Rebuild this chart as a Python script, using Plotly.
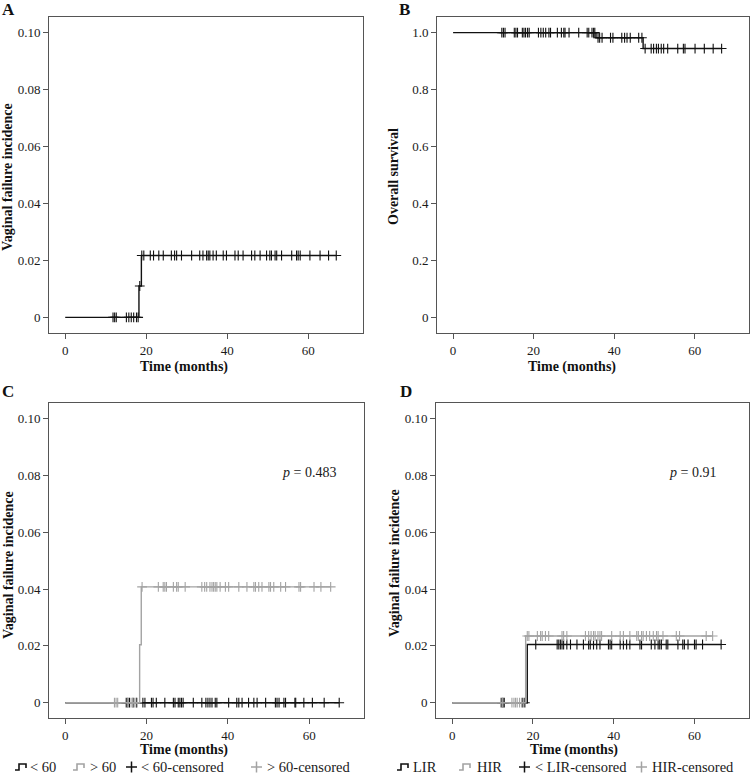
import numpy as np
import plotly.graph_objects as go

# ---------------- data ----------------
# Panel A: vaginal failure cumulative incidence (all patients)
a_step_t = [0, 18.2, 18.8, 66.9]
a_step_v = [0, 0.011, 0.0217, 0.0217]
a_cens_t = [11.8, 12.2, 12.6, 15.1, 15.7, 16.3, 16.9, 17.6, 18.0, 18.4,
            18.9, 19.4, 21.0, 21.8, 23.1, 24.2, 26.2, 27.0, 27.5, 28.7, 31.2,
            33.2, 34.0, 34.9, 35.3, 35.7, 36.5, 37.3, 39.0, 39.8, 41.9, 42.7,
            43.9, 46.0, 46.8, 48.1, 49.7, 50.5, 50.9, 51.8, 52.2, 53.4, 55.9,
            57.1, 57.5, 58.0, 60.4, 62.9, 65.0, 66.9]

# Panel B: overall survival
b_step_t = [0, 35.5, 47.2, 66.7]
b_step_v = [1.0, 0.982, 0.944, 0.944]
b_cens_t = [12.1, 12.5, 12.9, 15.2, 15.6, 16.0, 17.2, 17.6, 18.0, 18.5, 18.9,
            21.2, 21.8, 22.4, 23.0, 23.8, 24.2, 25.9, 26.9, 27.5, 27.8, 28.8,
            31.2, 33.3, 33.7, 34.5, 34.9, 35.2, 36.0, 36.4, 37.0, 39.1, 39.7,
            41.9, 42.6, 43.2, 44.0, 46.1, 46.9, 47.7, 49.2, 49.8, 50.5, 51.0,
            51.7, 52.3, 53.3, 55.8, 57.2, 57.6, 60.1, 62.4, 64.6, 66.7]

# Panel C: by age (< 60 vs > 60)
c_lt60_t = [0, 67.4]
c_lt60_v = [0, 0]
c_lt60_cens = [15.0, 15.4, 15.8, 16.7, 17.5, 19.1, 19.6, 21.2, 21.6, 22.4,
               24.5, 26.6, 27.0, 27.8, 28.2, 28.6, 29.0, 31.5, 33.6, 34.6,
               35.1, 35.6, 36.1, 36.9, 37.3, 40.2, 42.2, 42.7, 43.5, 45.1,
               46.4, 47.2, 49.3, 51.7, 52.1, 52.6, 53.8, 54.2, 56.5, 56.7,
               58.7, 60.8, 63.7, 67.4]
c_gt60_t = [0, 18.3, 18.7, 65.3]
c_gt60_v = [0, 0.0204, 0.0408, 0.0408]
c_gt60_cens = [12.1, 12.5, 12.9, 15.4, 16.2, 16.6, 17.1, 17.7,
               18.9, 22.9, 24.1, 24.5, 24.9, 26.6, 27.4, 27.8, 29.5, 33.6,
               34.3, 34.8, 35.6, 36.1, 36.5, 36.9, 37.3, 38.1, 39.4, 40.2,
               42.7, 44.7, 46.4, 46.8, 47.6, 48.4, 50.1, 50.5, 51.3, 53.0,
               54.2, 57.5, 57.9, 61.2, 62.9, 65.3]
c_pvalue = "<i>p</i> = 0.483"
c_legend_labels = ["< 60", "> 60", "< 60-censored", "> 60-censored"]

# Panel D: by risk group (LIR vs HIR)
d_lir_t = [0, 18.6, 66.6]
d_lir_v = [0, 0.0205, 0.0205]
d_lir_cens = [12.3, 12.6, 12.9, 17.5, 18.0,
              20.7, 26.0, 26.4, 26.8, 27.2, 27.6, 28.4, 29.3, 30.9, 32.5,
              33.8, 34.2, 35.0, 35.8, 36.6, 38.7, 39.1, 39.5, 41.6, 42.4,
              43.2, 44.0, 46.5, 46.9, 49.3, 50.2, 51.0, 51.4, 51.8, 53.0,
              53.4, 55.9, 57.1, 57.5, 58.4, 60.0, 60.4, 62.0, 66.6]
d_hir_t = [0, 18.2, 64.5]
d_hir_v = [0, 0.0235, 0.0235]
d_hir_cens = [12.0, 12.5, 14.8, 15.3, 15.7, 16.1, 16.7, 17.2,
              18.6, 19.0, 21.1, 21.9, 22.3, 23.1, 23.9, 27.2, 27.6, 28.4,
              33.0, 33.8, 34.4, 35.0, 35.4, 36.1, 36.6, 37.0, 39.5, 41.6,
              42.4, 44.0, 45.7, 46.1, 46.9, 47.3, 48.1, 48.9, 49.8, 50.6,
              51.0, 52.2, 55.5, 56.3, 62.9, 64.5]
d_pvalue = "<i>p</i> = 0.91"
d_legend_labels = ["LIR", "HIR", "< LIR-censored", "HIR-censored"]

x_tickvals = [0, 20, 40, 60]
inc_tickvals = [0, 0.02, 0.04, 0.06, 0.08, 0.10]
inc_ticktext = ["0", "0.02", "0.04", "0.06", "0.08", "0.10"]
surv_tickvals = [0, 0.2, 0.4, 0.6, 0.8, 1.0]
surv_ticktext = ["0", "0.2", "0.4", "0.6", "0.8", "1.0"]

# ---------------- figure ----------------
W, H = 752, 776
FONT = "Liberation Serif"
BLACK = "#111111"
GRAY = "#a3a3a3"
TXT = "#1a1a1a"


def step_value(ts, vs, t):
    idx = np.searchsorted(np.array(ts), t, side="right") - 1
    return np.array(vs)[np.clip(idx, 0, len(vs) - 1)]


fig = go.Figure()


def add_group(ts, vs, cens, color, xa, ya, name):
    fig.add_trace(go.Scatter(
        x=ts, y=vs, mode="lines", line=dict(color=color, width=1.4, shape="hv"),
        xaxis=xa, yaxis=ya, name=name, showlegend=False, hoverinfo="skip"))
    fig.add_trace(go.Scatter(
        x=cens, y=step_value(ts, vs, cens), mode="markers",
        marker=dict(symbol="cross-thin", size=7, line=dict(width=1.1, color=color), color=color),
        xaxis=xa, yaxis=ya, name=name + "-censored", showlegend=False, hoverinfo="skip"))


add_group(a_step_t, a_step_v, a_cens_t, BLACK, "x", "y", "all")
add_group(b_step_t, b_step_v, b_cens_t, BLACK, "x2", "y2", "all")
add_group(c_lt60_t, c_lt60_v, c_lt60_cens, BLACK, "x3", "y3", "< 60")
add_group(c_gt60_t, c_gt60_v, c_gt60_cens, GRAY, "x3", "y3", "> 60")
add_group(d_lir_t, d_lir_v, d_lir_cens, BLACK, "x4", "y4", "LIR")
add_group(d_hir_t, d_hir_v, d_hir_cens, GRAY, "x4", "y4", "HIR")


def px_x(p):
    return p / W


def px_y(p):
    return 1 - p / H


axis_common = dict(showline=True, mirror=True, linecolor="#555555", linewidth=1,
                   ticks="outside", ticklen=5, tickcolor="#555555", showgrid=False,
                   zeroline=False, tickfont=dict(family=FONT, size=13, color=TXT))

panels = {
    "": dict(xd=(49, 363), yd=(17, 333), yr=(-0.0055, 0.1054), tv=inc_tickvals, tt=inc_ticktext),
    "2": dict(xd=(437, 749), yd=(17, 333), yr=(-0.056, 1.055), tv=surv_tickvals, tt=surv_ticktext),
    "3": dict(xd=(49, 364), yd=(403, 718), yr=(-0.0054, 0.1056), tv=inc_tickvals, tt=inc_ticktext),
    "4": dict(xd=(436, 749), yd=(403, 718), yr=(-0.0054, 0.1056), tv=inc_tickvals, tt=inc_ticktext),
}
layout = {}
for k, p in panels.items():
    layout["xaxis" + k] = dict(axis_common, domain=[px_x(p["xd"][0]), px_x(p["xd"][1])],
                               range=[-4.0, 73.5], tickvals=x_tickvals,
                               anchor="y" + k)
    layout["yaxis" + k] = dict(axis_common, domain=[px_y(p["yd"][1]), px_y(p["yd"][0])],
                               range=list(p["yr"]), tickvals=p["tv"], ticktext=p["tt"],
                               anchor="x" + k)
fig.update_layout(**layout)

ann = []
shapes = []
# panel letters
for txt, x, y in [("A", 8, 10), ("B", 404, 10), ("C", 8, 391), ("D", 406, 391)]:
    ann.append(dict(text="<b>%s</b>" % txt, x=px_x(x), y=px_y(y), xref="paper", yref="paper",
                    showarrow=False, font=dict(family=FONT, size=17, color="#111111"),
                    xanchor="center", yanchor="middle"))
# x-axis titles
for x, y in [(184, 367), (572, 367), (184, 750), (574, 750)]:
    ann.append(dict(text="<b>Time (months)</b>", x=px_x(x), y=px_y(y), xref="paper", yref="paper",
                    showarrow=False, font=dict(family=FONT, size=14, color="#111111"),
                    xanchor="center", yanchor="middle"))
# y-axis titles
for txt, x, y in [("Vaginal failure incidence", 8, 177), ("Overall survival", 394, 177),
                  ("Vaginal failure incidence", 8, 565), ("Vaginal failure incidence", 394, 563)]:
    ann.append(dict(text="<b>%s</b>" % txt, x=px_x(x), y=px_y(y), xref="paper", yref="paper",
                    showarrow=False, textangle=-90, font=dict(family=FONT, size=14, color="#111111"),
                    xanchor="center", yanchor="middle"))
# p-values
ann.append(dict(text=c_pvalue, x=60, y=0.081, xref="x3", yref="y3", showarrow=False,
                font=dict(family=FONT, size=14, color=TXT)))
ann.append(dict(text=d_pvalue, x=59.6, y=0.081, xref="x4", yref="y4", showarrow=False,
                font=dict(family=FONT, size=14, color=TXT)))

# ---- legends (drawn as glyphs + text below panels C and D) ----
LEG_Y = 767


def step_glyph(x0, color):
    yb, yt = LEG_Y + 3, LEG_Y - 3
    path = "M {a},{b} L {c},{b} L {c},{d} L {e},{d} L {e},{f}".format(
        a=px_x(x0), b=px_y(yb), c=px_x(x0 + 4), d=px_y(yt), e=px_x(x0 + 11), f=px_y(yt + 4))
    shapes.append(dict(type="path", path=path, xref="paper", yref="paper",
                       line=dict(color=color, width=1.6)))


def plus_glyph(x0, color):
    shapes.append(dict(type="line", xref="paper", yref="paper", x0=px_x(x0), x1=px_x(x0 + 11),
                       y0=px_y(LEG_Y), y1=px_y(LEG_Y), line=dict(color=color, width=1.5)))
    shapes.append(dict(type="line", xref="paper", yref="paper", x0=px_x(x0 + 5.5), x1=px_x(x0 + 5.5),
                       y0=px_y(LEG_Y - 5.5), y1=px_y(LEG_Y + 5.5), line=dict(color=color, width=1.5)))


def legend_text(x0, txt):
    ann.append(dict(text=txt, x=px_x(x0), y=px_y(LEG_Y), xref="paper", yref="paper",
                    showarrow=False, xanchor="left", yanchor="middle",
                    font=dict(family=FONT, size=14.5, color=TXT)))


legend_layout = [
    (c_legend_labels, [(15, 28), (73, 88), (126, 139), (251, 265)]),
    (d_legend_labels, [(397, 411), (459, 475), (519, 533), (636, 650)]),
]
glyph_kinds = [("step", BLACK), ("step", GRAY), ("plus", BLACK), ("plus", GRAY)]
for labels, pos in legend_layout:
    for lab, (gx, tx), (kind, col) in zip(labels, pos, glyph_kinds):
        if kind == "step":
            step_glyph(gx, col)
        else:
            plus_glyph(gx, col)
        legend_text(tx, lab)

fig.update_layout(
    width=W, height=H, margin=dict(l=0, r=0, t=0, b=0),
    paper_bgcolor="white", plot_bgcolor="white",
    annotations=ann, shapes=shapes, showlegend=False,
)

fig.write_html("out.html", config={"displayModeBar": False},
               post_script="document.body.style.margin='0px';")
